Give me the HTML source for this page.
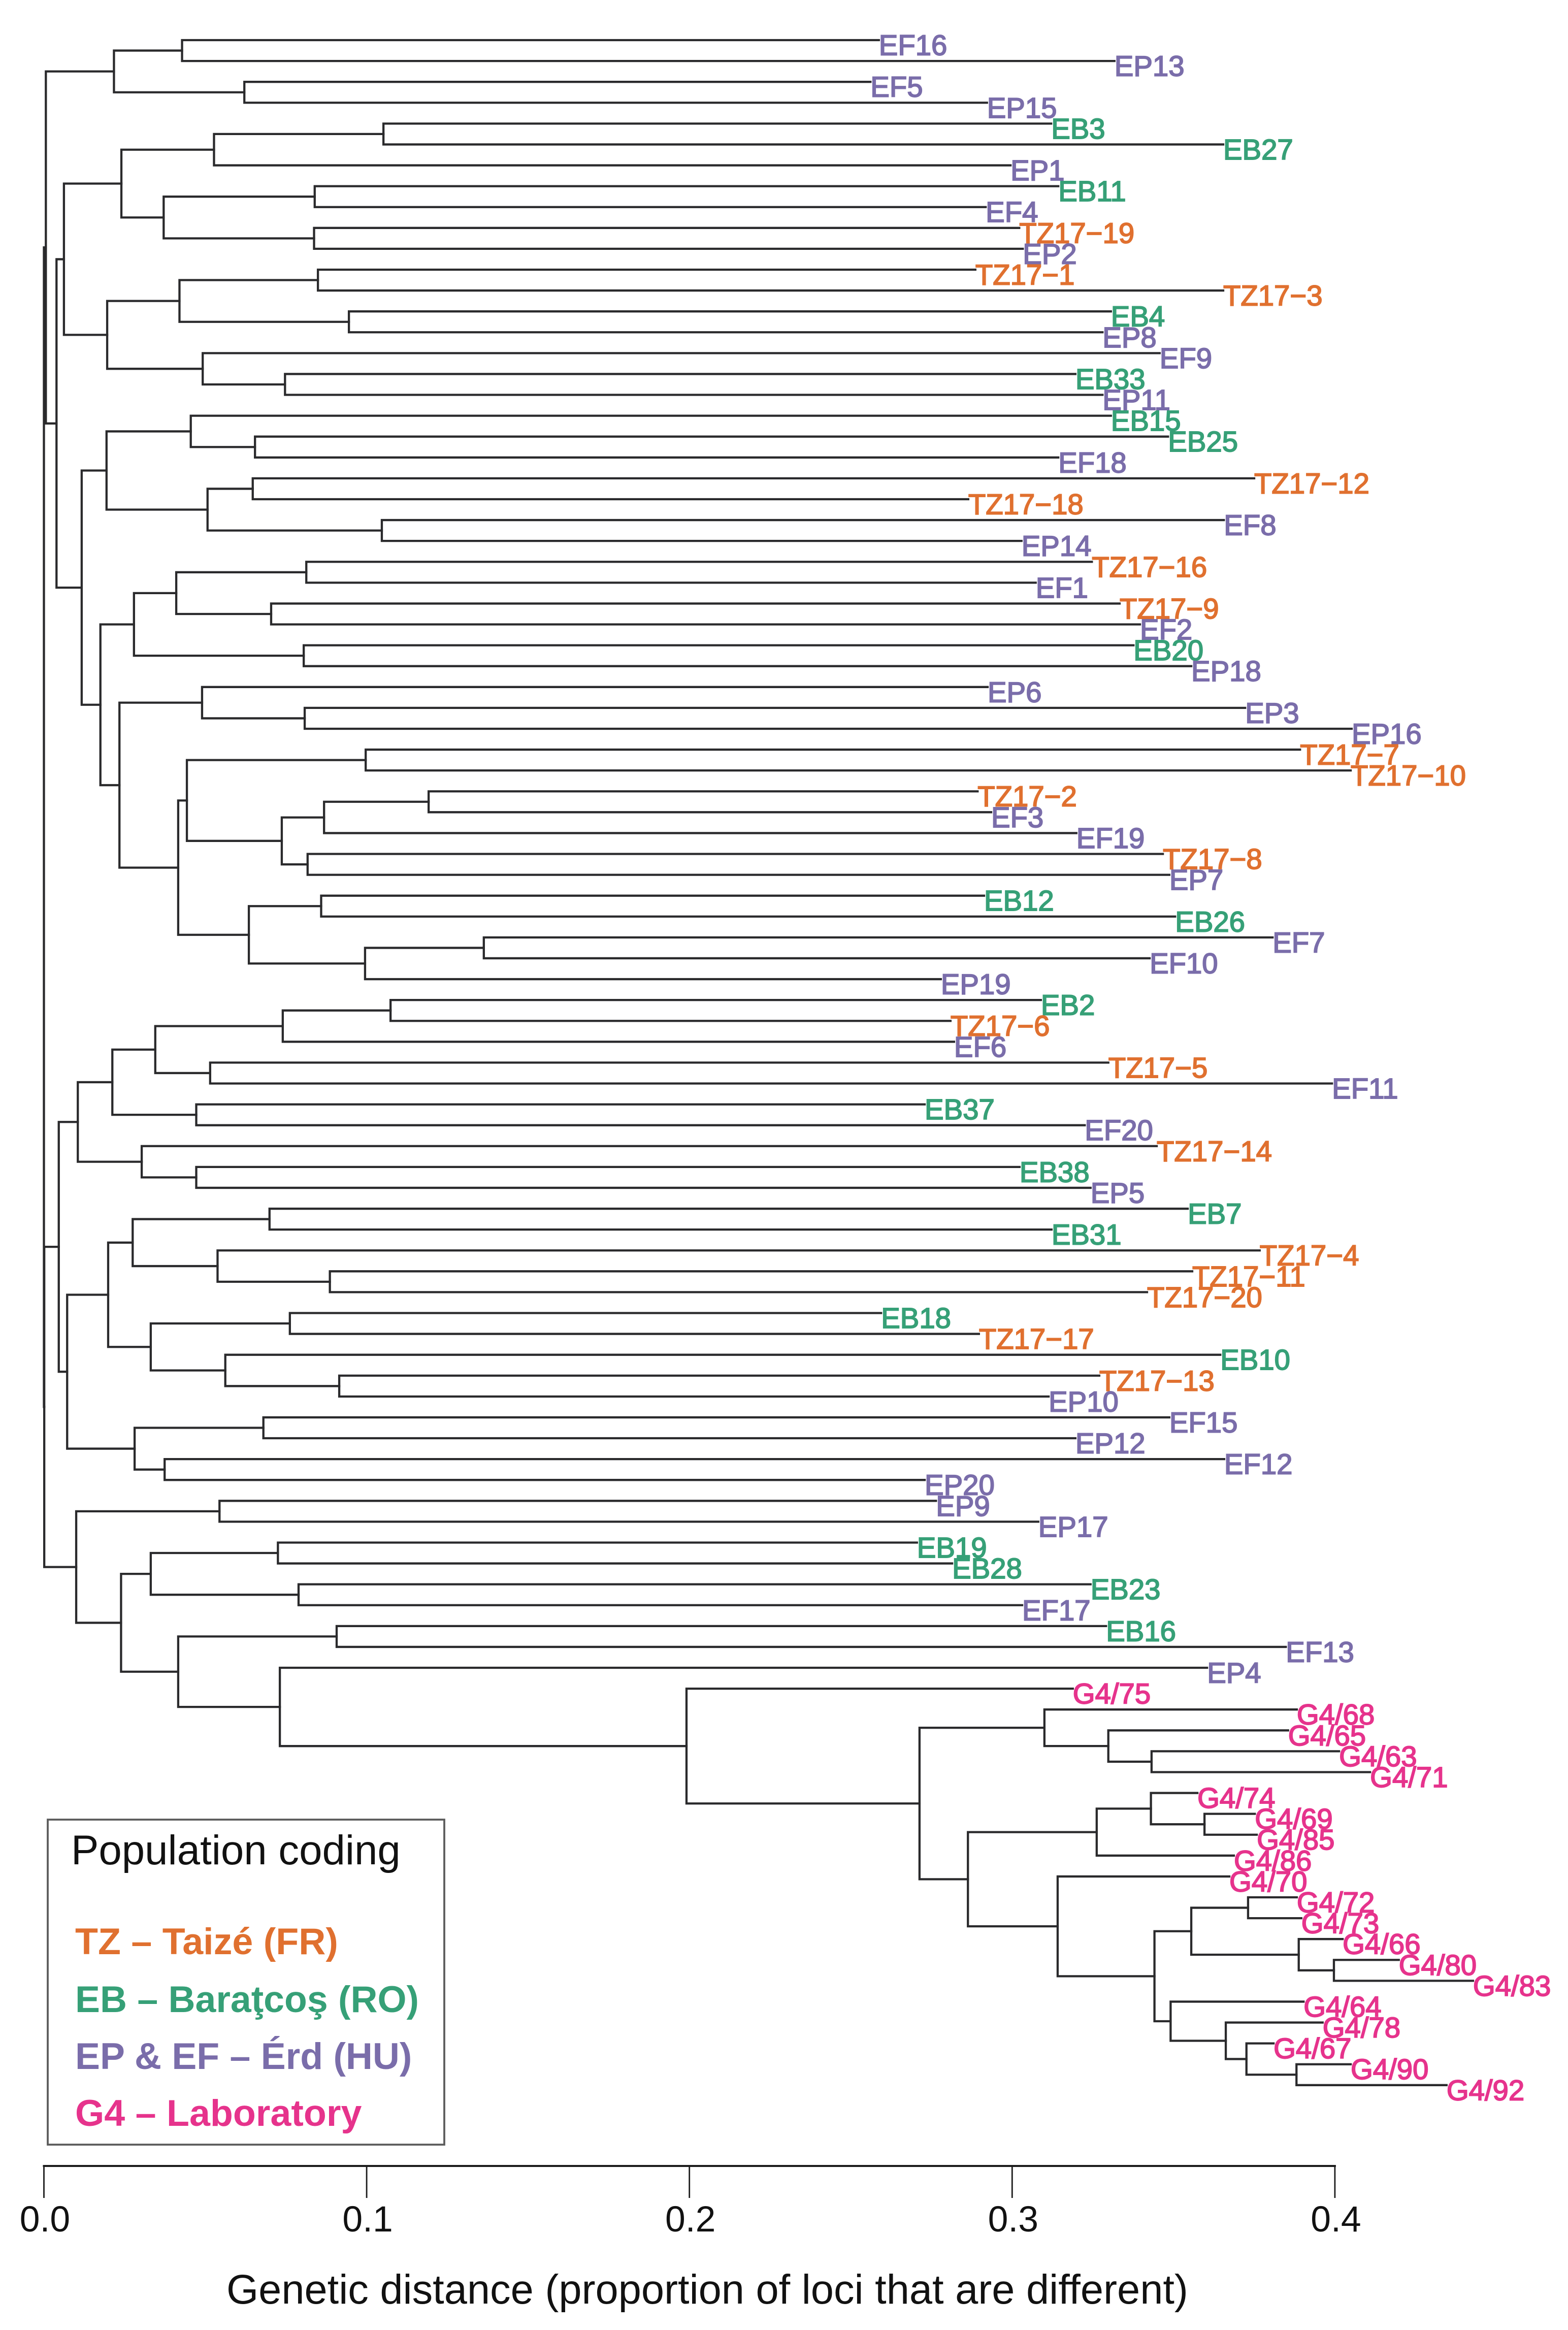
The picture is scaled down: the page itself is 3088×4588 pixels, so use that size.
<!DOCTYPE html>
<html lang="en">
<head>
<meta charset="utf-8">
<title>Genetic distance dendrogram</title>
<style>
html,body{margin:0;padding:0;background:#fff}
svg{display:block}
text{font-family:"Liberation Sans",Arial,sans-serif}
</style>
</head>
<body>
<svg xmlns="http://www.w3.org/2000/svg" width="3088" height="4588" viewBox="0 0 3088 4588">
  <rect x="0" y="0" width="3088" height="4588" fill="#ffffff"/>
  <g id="branches" fill="none" stroke="#2a2a2c" stroke-width="4.3" stroke-linecap="square" stroke-linejoin="miter"></g>
  <g id="tips" font-size="56.3" stroke-width="1.9"></g>
  <g id="axis"></g>
  <text x="1393" y="4536" font-size="81.2" text-anchor="middle" fill="#111">Genetic distance (proportion of loci that are different)</text>
  <g>
    <rect x="94" y="3583" width="781" height="640" fill="none" stroke="#5c5c5c" stroke-width="3.8"/>
    <text x="140" y="3671" font-size="81.6" fill="#111">Population coding</text>
    <text x="148" y="3848" font-size="73.6" font-weight="bold" fill="#e0702f">TZ – Taizé (FR)</text>
    <text x="148" y="3962" font-size="73.4" font-weight="bold" fill="#36a077">EB – Baraţcoş (RO)</text>
    <text x="148" y="4074" font-size="73.4" font-weight="bold" fill="#7a6daa">EP &amp; EF – Érd (HU)</text>
    <text x="148" y="4186" font-size="73.6" font-weight="bold" fill="#e6338c">G4 – Laboratory</text>
  </g>
</svg>
<script>
const tipLabels = ["EF16","EP13","EF5","EP15","EB3","EB27","EP1","EB11","EF4","TZ17−19","EP2","TZ17−1","TZ17−3","EB4","EP8","EF9","EB33","EP11","EB15","EB25","EF18","TZ17−12","TZ17−18","EF8","EP14","TZ17−16","EF1","TZ17−9","EF2","EB20","EP18","EP6","EP3","EP16","TZ17−7","TZ17−10","TZ17−2","EF3","EF19","TZ17−8","EP7","EB12","EB26","EF7","EF10","EP19","EB2","TZ17−6","EF6","TZ17−5","EF11","EB37","EF20","TZ17−14","EB38","EP5","EB7","EB31","TZ17−4","TZ17−11","TZ17−20","EB18","TZ17−17","EB10","TZ17−13","EP10","EF15","EP12","EF12","EP20","EP9","EP17","EB19","EB28","EB23","EF17","EB16","EF13","EP4","G4/75","G4/68","G4/65","G4/63","G4/71","G4/74","G4/69","G4/85","G4/86","G4/70","G4/72","G4/73","G4/66","G4/80","G4/83","G4/64","G4/78","G4/67","G4/90","G4/92"];
const tipDistances = [0.2587,0.3317,0.2561,0.2922,0.3121,0.3654,0.2995,0.3143,0.2918,0.3022,0.3033,0.2886,0.3654,0.3306,0.3280,0.3457,0.3196,0.3280,0.3306,0.3483,0.3143,0.3750,0.2864,0.3656,0.3029,0.3247,0.3073,0.3333,0.3396,0.3376,0.3555,0.2924,0.3722,0.4052,0.3892,0.4049,0.2893,0.2935,0.3199,0.3467,0.3487,0.2913,0.3505,0.3807,0.3426,0.2779,0.3089,0.2809,0.2820,0.3298,0.3991,0.2729,0.3225,0.3448,0.3023,0.3243,0.3544,0.3122,0.3767,0.3558,0.3418,0.2594,0.2897,0.3645,0.3270,0.3113,0.3487,0.3196,0.3657,0.2729,0.2764,0.3081,0.2705,0.2814,0.3243,0.3031,0.3291,0.3848,0.3604,0.3188,0.3882,0.3855,0.4013,0.4109,0.3574,0.3752,0.3758,0.3687,0.3673,0.3882,0.3896,0.4024,0.4198,0.4428,0.3903,0.3962,0.3810,0.4049,0.4346];
/* Clades: [merge distance, upper child, lower child]; a plain number is a 1-based tip row. */
const cladeUpperA = [0.0217,[0.0428,1,2],[0.0621,3,4]];
const cladeB = [0.0240,[0.0527,[0.1052,5,6],7],[0.0371,[0.0839,8,9],[0.0837,10,11]]];
const cladeC = [0.0196,[0.0420,[0.0849,12,13],[0.0945,14,15]],[0.0492,16,[0.0747,17,18]]];
const cladeE = [0.0194,[0.0455,19,[0.0654,20,21]],[0.0507,[0.0647,22,23],[0.1047,24,25]]];
const cladeG1 = [0.0279,[0.0410,[0.0813,26,27],[0.0704,28,29]],[0.0805,30,31]];
const cladeH21 = [0.0443,[0.0997,35,36],[0.0737,[0.0868,[0.1192,37,38],39],[0.0817,40,41]]];
const cladeH3 = [0.0635,[0.0859,42,43],[0.0995,[0.1363,44,45],46]];
const cladeH = [0.0234,[0.0490,32,[0.0808,33,34]],[0.0416,cladeH21,cladeH3]];
const cladeJ1 = [0.0105,[0.0212,[0.0345,[0.0740,[0.1074,47,48],49],[0.0515,50,51]],[0.0472,52,53]],[0.0303,54,[0.0472,55,56]]];
const cladeK1 = [0.0199,[0.0275,[0.0699,57,58],[0.0538,59,[0.0886,60,61]]],[0.0331,[0.0762,62,63],[0.0562,64,[0.0915,65,66]]]];
const cladeK2 = [0.0281,[0.0680,67,68],[0.0374,69,70]];
const cladeLabR = [0.3100,81,[0.3298,82,[0.3432,83,84]]];
const cladeLabS1 = [0.3262,[0.3430,85,[0.3596,86,87]],88];
const cladeLabS21 = [0.3441,[0.3555,[0.3731,90,91],[0.3888,92,[0.3997,93,94]]],[0.3491,95,[0.3662,96,[0.3726,97,[0.3881,98,99]]]]];
const cladeLab = [0.1991,80,[0.2713,cladeLabR,[0.2863,cladeLabS1,[0.3141,89,cladeLabS21]]]];
const cladeM = [0.0239,[0.0331,[0.0725,73,74],[0.0789,75,76]],[0.0416,[0.0907,77,78],[0.0731,79,cladeLab]]];
const treeRoot = [0,
  [0.0006,cladeUpperA,[0.0039,[0.0062,cladeB,cladeC],[0.0117,cladeE,[0.0175,cladeG1,cladeH]]]],
  [0.0001,[0.0046,cladeJ1,[0.0072,cladeK1,cladeK2]],[0.0100,[0.0544,71,72],cladeM]]
];
const axisTicks = [0,0.1,0.2,0.3,0.4];
const axisTickLabels = ["0.0","0.1","0.2","0.3","0.4"];

const SVGNS = "http://www.w3.org/2000/svg";
const branchLayer = document.getElementById("branches");
const tipLayer = document.getElementById("tips");
const axisLayer = document.getElementById("axis");
function xScale(d){ return 86.5 + 6356 * d; }
function yScale(row){ return 79 + 41.09 * (row - 1); }
function tipColor(label){
  if(label.indexOf("TZ") === 0) return "#e0702f";
  if(label.indexOf("EB") === 0) return "#36a077";
  if(label.indexOf("G4") === 0) return "#e6338c";
  return "#7a6daa";
}
function drawClade(node){
  if(typeof node === "number"){
    const label = tipLabels[node - 1];
    const px = xScale(tipDistances[node - 1]);
    const py = yScale(node);
    const t = document.createElementNS(SVGNS, "text");
    t.setAttribute("x", px);
    t.setAttribute("y", py + 29.5);
    t.setAttribute("fill", tipColor(label));
    t.setAttribute("stroke", tipColor(label));
    
    
    t.textContent = label;
    tipLayer.appendChild(t);
    return {x:px, y:py};
  }
  const upper = drawClade(node[1]);
  const lower = drawClade(node[2]);
  const nx = xScale(node[0]);
  const ny = (upper.y + lower.y) / 2;
  const p = document.createElementNS(SVGNS, "path");
  p.setAttribute("d", "M" + upper.x + " " + upper.y + "H" + nx + "V" + lower.y + "H" + lower.x);
  
  
  branchLayer.appendChild(p);
  return {x:nx, y:ny};
}
drawClade(treeRoot);

const axisLine = document.createElementNS(SVGNS, "line");
axisLine.setAttribute("x1", xScale(axisTicks[0]));
axisLine.setAttribute("x2", xScale(axisTicks[axisTicks.length - 1]));
axisLine.setAttribute("y1", 4265);
axisLine.setAttribute("y2", 4265);
axisLine.setAttribute("stroke", "#1c1c1c");
axisLine.setAttribute("stroke-width", "4");
axisLine.setAttribute("stroke-linecap", "square");


axisLayer.appendChild(axisLine);
axisTicks.forEach(function(v, i){
  const tick = document.createElementNS(SVGNS, "line");
  tick.setAttribute("x1", xScale(v));
  tick.setAttribute("x2", xScale(v));
  tick.setAttribute("y1", 4265);
  tick.setAttribute("y2", 4328);
  tick.setAttribute("stroke", "#1c1c1c");
  tick.setAttribute("stroke-width", "2.8");
  
  
  axisLayer.appendChild(tick);
  const lab = document.createElementNS(SVGNS, "text");
  lab.setAttribute("x", xScale(v) + 2);
  lab.setAttribute("y", 4394);
  lab.setAttribute("font-size", "71.5");
  lab.setAttribute("text-anchor", "middle");
  lab.setAttribute("fill", "#111");
  
  
  lab.textContent = axisTickLabels[i];
  axisLayer.appendChild(lab);
});
</script>
</body>
</html>
